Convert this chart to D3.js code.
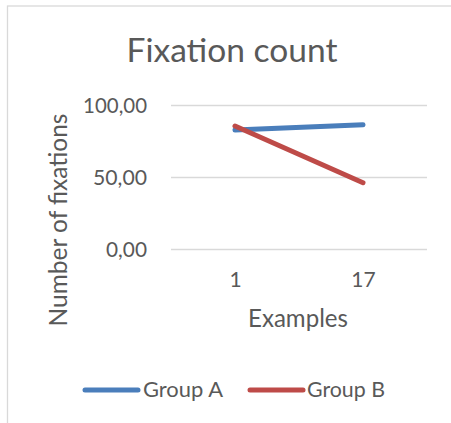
<!DOCTYPE html>
<html>
<head>
<meta charset="utf-8">
<script src="https://cdn.jsdelivr.net/npm/d3@7"></script>
<style>
  html, body { margin: 0; padding: 0; background: #fff; }
  svg { display: block; }
  text { font-family: Lato, "Open Sans", sans-serif; fill: #595959; }
</style>
</head>
<body>
<svg id="chart" width="451" height="423"></svg>
<script>
// Chart data
const categories = ["1", "17"];
const groupA = [82.6, 86.3];
const groupB = [85.4, 46.0];
const seriesNames = ["Group A", "Group B"];
const yTicks = [0, 50, 100];

const colors = { "Group A": "#4A7EBB", "Group B": "#BE4B48" };
const textColor = "#595959";
const gridColor = "#D9D9D9";
const fontFamily = 'Lato, "Open Sans", sans-serif';

const svg = d3.select("#chart");

// Chart-area frame
svg.append("rect")
  .attr("x", 7.5).attr("y", 6)
  .attr("width", 460).attr("height", 430)
  .attr("fill", "#fff")
  .attr("stroke", gridColor)
  .attr("stroke-width", 1.3);

const plot = { left: 171, right: 427, top: 105, bottom: 249 };

const x = d3.scalePoint()
  .domain(categories)
  .range([plot.left, plot.right])
  .padding(0.5);

const y = d3.scaleLinear()
  .domain([0, 100])
  .range([plot.bottom, plot.top]);

const locale = d3.formatLocale({ decimal: ",", thousands: ".", grouping: [3], currency: ["", "€"] });
const fmt = locale.format(".2f");

// Scale a label's font so its rendered width matches the given width
function fitWidth(sel, width) {
  const node = sel.node();
  const size = parseFloat(sel.attr("font-size"));
  const w = node.getComputedTextLength();
  if (w > 0) sel.attr("font-size", (size * width / w).toFixed(2));
  return sel;
}

// Gridlines and value labels
const yAxis = d3.axisLeft(y)
  .tickValues(yTicks)
  .tickFormat(fmt)
  .tickSize(-(plot.right - plot.left))
  .tickPadding(24);

const gy = svg.append("g")
  .attr("transform", `translate(${plot.left},0)`)
  .call(yAxis);
gy.select(".domain").remove();
gy.selectAll(".tick line").attr("stroke", gridColor).attr("stroke-width", 1.3);
gy.selectAll(".tick text")
  .attr("fill", textColor)
  .attr("font-size", 19)
  .attr("dy", "0.36em")
  .style("font-family", fontFamily)
  .each(function () {
    const t = d3.select(this);
    const len = t.text().length;
    fitWidth(t, len === 6 ? 64 : len === 5 ? 54 : 41);
  });

// Category labels
const xAxis = d3.axisBottom(x).tickSize(0).tickPadding(0);
const gx = svg.append("g")
  .attr("transform", `translate(0,${plot.bottom})`)
  .call(xAxis);
gx.select(".domain").remove();
gx.selectAll(".tick text")
  .attr("fill", textColor)
  .attr("font-size", 21)
  .attr("y", 38)
  .attr("dy", 0)
  .style("font-family", fontFamily);

// Series lines
const line = d3.line()
  .x((d, i) => x(categories[i]))
  .y(d => y(d));

const series = [
  { name: seriesNames[0], values: groupA },
  { name: seriesNames[1], values: groupB }
];

svg.append("g").selectAll("path")
  .data(series)
  .join("path")
  .attr("d", d => line(d.values))
  .attr("fill", "none")
  .attr("stroke", d => colors[d.name])
  .attr("stroke-width", 5)
  .attr("stroke-linecap", "round")
  .attr("stroke-linejoin", "round");

// Title
const title = svg.append("text")
  .attr("x", 232).attr("y", 62)
  .attr("text-anchor", "middle")
  .attr("font-size", 30)
  .text("Fixation count");
fitWidth(title, 211);

// Axis titles
const xTitle = svg.append("text")
  .attr("x", 298).attr("y", 327)
  .attr("text-anchor", "middle")
  .attr("font-size", 20)
  .text("Examples");
fitWidth(xTitle, 100);

const yTitle = svg.append("text")
  .attr("transform", "translate(67,220) rotate(-90)")
  .attr("text-anchor", "middle")
  .attr("font-size", 20)
  .text("Number of fixations");
fitWidth(yTitle, 213);

// Legend
const legend = svg.append("g");
const legendItems = [
  { name: seriesNames[0], x1: 85, x2: 138, tx: 143, tw: 80 },
  { name: seriesNames[1], x1: 250, x2: 303, tx: 307, tw: 78 }
];
legendItems.forEach(it => {
  legend.append("line")
    .attr("x1", it.x1).attr("x2", it.x2)
    .attr("y1", 390).attr("y2", 390)
    .attr("stroke", colors[it.name])
    .attr("stroke-width", 5)
    .attr("stroke-linecap", "round");
  const t = legend.append("text")
    .attr("x", it.tx).attr("y", 397)
    .attr("font-size", 19)
    .text(it.name);
  fitWidth(t, it.tw);
});
</script>
</body>
</html>
